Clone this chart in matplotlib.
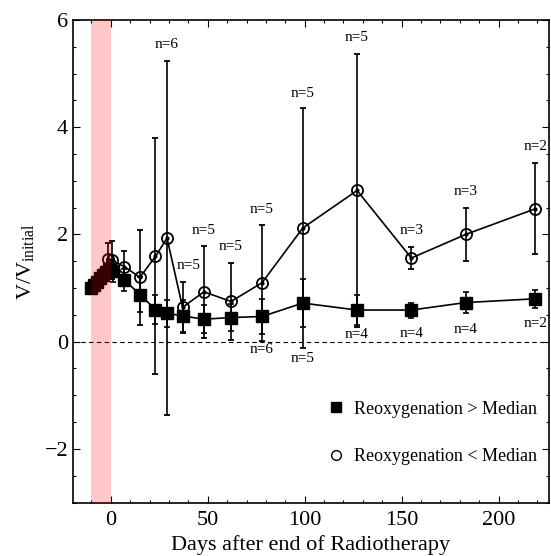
import matplotlib
matplotlib.use("Agg")
import matplotlib.pyplot as plt
from matplotlib.lines import Line2D
from matplotlib.ticker import MultipleLocator

# reoxygenation > median (filled squares)
sq_days = [-10, -8.5, -7, -5.5, -4, -2.5, -1, 1, 7, 15, 23, 29, 37, 48, 62, 78, 99, 127, 155, 183, 219]
sq_vals = [1.0, 1.06, 1.12, 1.18, 1.24, 1.30, 1.36, 1.31, 1.15, 0.88, 0.60, 0.53, 0.48, 0.42, 0.45, 0.47, 0.72, 0.59, 0.59, 0.73, 0.80]
sq_err = [0.0, 0.05, 0.06, 0.07, 0.08, 0.1, 0.12, 0.2, 0.2, 0.32, 0.27, 0.25, 0.3, 0.26, 0.25, 0.33, 0.44, 0.28, 0.14, 0.2, 0.17]

# reoxygenation < median (open circles)
ci_days = [-10, -7, -4, -1.5, 0.5, 7, 15, 23, 29, 37, 48, 62, 78, 99, 127, 155, 183, 219]
ci_vals = [1.0, 1.12, 1.25, 1.55, 1.52, 1.40, 1.20, 1.59, 1.93, 0.64, 0.93, 0.75, 1.10, 2.12, 2.82, 1.56, 2.00, 2.48]
ci_err = [0.0, 0.08, 0.1, 0.29, 0.36, 0.30, 0.88, 2.20, 3.30, 0.48, 0.86, 0.71, 1.08, 2.24, 2.55, 0.21, 0.49, 0.85]

# sample counts written next to the points
n_top_days = [29, 40, 48, 62, 78, 99, 127, 155, 183, 219]
n_top_vals = [5.54, 1.43, 2.08, 1.77, 2.47, 4.62, 5.67, 2.08, 2.80, 3.64]
n_top_text = ["n=6", "n=5", "n=5", "n=5", "n=5", "n=5", "n=5", "n=3", "n=3", "n=2"]
n_bot_days = [78, 99, 127, 155, 183, 219]
n_bot_vals = [-0.15, -0.31, 0.125, 0.16, 0.23, 0.34]
n_bot_text = ["n=6", "n=5", "n=4", "n=4", "n=4", "n=2"]

rt_start, rt_end = -10, 0

plt.rcParams.update({
    "font.family": ["Liberation Serif", "DejaVu Serif"],
    "mathtext.fontset": "custom",
    "mathtext.rm": "Liberation Serif",
    "mathtext.it": "Liberation Serif:italic",
})

fig = plt.figure(figsize=(5.51, 5.56), dpi=100)
ax = fig.add_axes([0.1325, 0.0962, 0.8639, 0.8678])

ax.axhline(0, color="black", lw=0.8, ls=(0, (4, 3)), zorder=1)

ax.errorbar(ci_days, ci_vals, yerr=ci_err, fmt="o", color="black", ms=8, mfc="none",
            mec="black", mew=1.3, lw=1.2, ecolor="black", elinewidth=1.2, capsize=2.2,
            capthick=1.2, ls="-", zorder=3)
ax.plot(ci_days, ci_vals, ".", color="black", ms=4, zorder=4)
ax.errorbar(sq_days, sq_vals, yerr=sq_err, fmt="s", color="black", ms=9, lw=1.2,
            ecolor="black", elinewidth=1.2, capsize=2.2, capthick=1.2, ls="-", zorder=5)

# radiotherapy window drawn over the markers, as in the original
ax.axvspan(rt_start, rt_end, color="red", alpha=0.22, lw=0, zorder=6)

for d, v, t in zip(n_top_days, n_top_vals, n_top_text):
    ax.text(d, v, t, ha="center", va="center", fontsize=11)
for d, v, t in zip(n_bot_days, n_bot_vals, n_bot_text):
    ax.text(d, v, t, ha="center", va="center", fontsize=11)

ax.set_xlim(-19.5, 226)
ax.set_ylim(-3, 6)
ax.xaxis.set_major_locator(MultipleLocator(50))
ax.xaxis.set_minor_locator(MultipleLocator(10))
ax.yaxis.set_major_locator(MultipleLocator(2))
ax.yaxis.set_minor_locator(MultipleLocator(0.5))
ax.tick_params(which="both", direction="in", top=True, right=True, labelsize=16, width=0.8)
ax.tick_params(which="major", length=5)
ax.tick_params(which="minor", length=2.5)
ax.tick_params(axis="x", which="major", pad=6)
for s in ax.spines.values():
    s.set_linewidth(1.2)

ax.set_xlabel("Days after end of Radiotherapy", fontsize=16, labelpad=4)
ax.set_ylabel(r"$\mathrm{V/V}_{\mathrm{initial}}$", fontsize=16, labelpad=6)

handles = [
    Line2D([], [], marker="s", color="black", ls="none", ms=7),
    Line2D([], [], marker="o", mfc="none", mec="black", ls="none", ms=7, mew=1.0),
]
ax.legend(handles, ["Reoxygenation > Median", "Reoxygenation < Median"], loc="upper left",
          bbox_to_anchor=(0.518, 0.226), frameon=False, fontsize=13, labelspacing=1.7,
          handlelength=1.0, handletextpad=0.5, borderaxespad=0)

fig.savefig("out.png", dpi=100)
